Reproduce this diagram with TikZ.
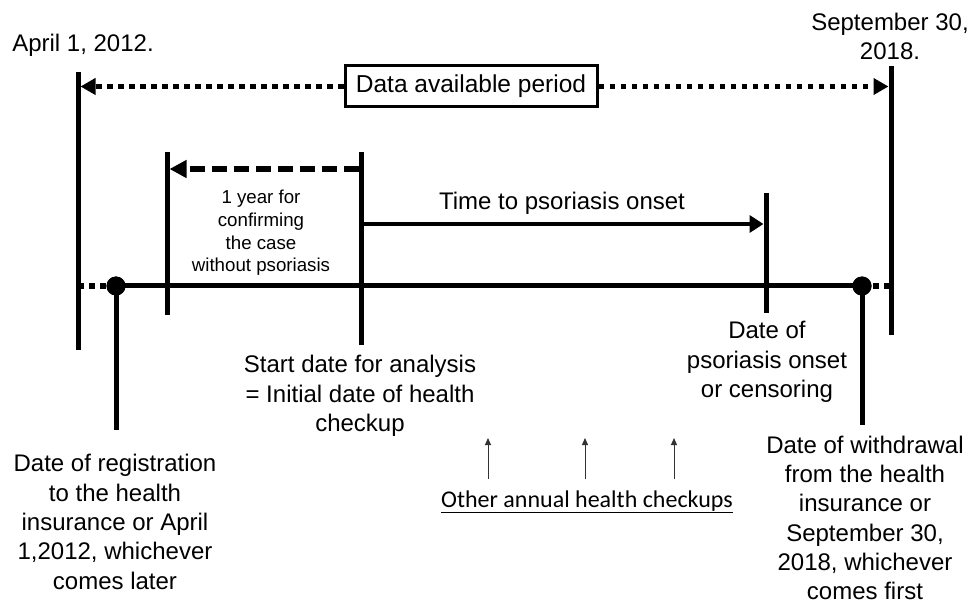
\documentclass[tikz,border=0pt]{standalone}
\usepackage{fontspec}
\setmainfont{Liberation Sans}
\newfontfamily\calib{Carlito}
\usetikzlibrary{arrows.meta}
\begin{document}
\begin{tikzpicture}[x=1pt,y=-1pt,
  vline/.style={line width=5pt},
  lbl/.style={align=center, inner sep=0pt, font=\fontsize{24}{29.3}\selectfont},
  smalllbl/.style={align=center, inner sep=0pt, font=\fontsize{18.7}{22.6}\selectfont},
  dotline/.style={line width=5.5pt, dash pattern=on 5.5pt off 5.5pt},
  dashline/.style={line width=5.3pt, dash pattern=on 15pt off 7pt},
  bigtip/.style={-{Triangle[length=15pt,width=16pt]}},
  thinarrow/.style={line width=1pt, draw=black!80, -{Triangle[length=7pt,width=6pt]}},
  dotmark/.style={circle, fill=black, inner sep=0pt, minimum size=19pt}]
\useasboundingbox (0,0) rectangle (970,604);

% coordinates
\coordinate (LT) at (78,72);   \coordinate (LB) at (78,350);
\coordinate (RT) at (891,66);  \coordinate (RB) at (891,335);
\coordinate (AT) at (167,152); \coordinate (AB) at (167,315);
\coordinate (ST) at (361,152); \coordinate (SB) at (361,345);
\coordinate (OT) at (766,193); \coordinate (OB) at (766,313);
\coordinate (ML) at (78,286);  \coordinate (MR) at (891,286);
\coordinate (D1B) at (116,430); \coordinate (D2B) at (862,425);
\coordinate (dS) at (358.5,169); \coordinate (dE) at (169.5,169);
\coordinate (tS) at (361,224); \coordinate (tE) at (763.5,224);

% box and top arrow
\node[draw, line width=3pt, minimum width=252pt, minimum height=41pt, inner sep=0pt,
      font=\fontsize{24.5}{29}\selectfont] (box) at (471,86.5) {Data available period};
\coordinate (bL) at (80.5,86.5); \coordinate (bR) at (888.5,86.5);
\draw[dotline, bigtip] (box.west) -- (bL);
\draw[dotline, bigtip] (box.east) -- (bR);

% main horizontal line
\node[dotmark] (D1) at (116,286) {};
\node[dotmark] (D2) at (862,286) {};
\draw[dotline] (ML) -- (D1.center);
\draw[line width=5pt] (D1.center) -- (D2.center);
\draw[dotline] (D2.center) -- (MR);

% verticals
\draw[vline] (LT) -- (LB);
\draw[vline] (RT) -- (RB);
\draw[vline] (AT) -- (AB);
\draw[vline] (ST) -- (SB);
\draw[vline] (OT) -- (OB);
\draw[vline] (D1.center) -- (D1B);
\draw[vline] (D2.center) -- (D2B);
\node[dotmark] at (D1) {};
\node[dotmark] at (D2) {};

% arrows
\draw[dashline, -{Triangle[length=17pt,width=17pt]}] (dS) -- (dE);
\draw[line width=4.7pt, -{Triangle[length=14pt,width=17pt]}] (tS) -- (tE);

% labels
\node[lbl] (apr) at (83,45) {April 1, 2012.};
\node[lbl] (sep) at (890,36.5) {September 30,\\2018.};
\node[smalllbl] (oneyear) at (261,233) {1 year for\\confirming\\the case\\without psoriasis};
\node[lbl] (time) at (562,203) {Time to psoriasis onset};
\node[lbl] (start) at (360,396) {Start date for analysis\\= Initial date of health\\checkup};
\node[lbl] (onset) at (767,362) {Date of\\psoriasis onset\\or censoring};
\node[lbl] (reg) at (115,522) {Date of registration\\to the health\\insurance or April\\1,2012, whichever\\comes later};
\node[lbl] (wd) at (865,518) {Date of withdrawal\\from the health\\insurance or\\September 30,\\2018, whichever\\comes first};

% other annual checkups
\coordinate (c1b) at (488,479); \coordinate (c1t) at (488,438);
\coordinate (c2b) at (585,479); \coordinate (c2t) at (585,438);
\coordinate (c3b) at (674,479); \coordinate (c3t) at (674,438);
\draw[thinarrow] (c1b) -- (c1t);
\draw[thinarrow] (c2b) -- (c2t);
\draw[thinarrow] (c3b) -- (c3t);
\node[inner sep=0pt, font=\calib\fontsize{24}{29}\selectfont] (other) at (587,502) {\underline{Other annual health checkups}};
\end{tikzpicture}
\end{document}
